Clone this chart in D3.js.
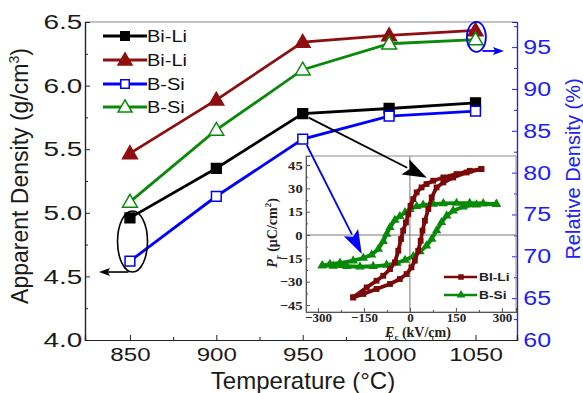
<!DOCTYPE html>
<html><head><meta charset="utf-8">
<script src="https://cdn.jsdelivr.net/npm/d3@7"></script>
<style>
html,body{margin:0;padding:0;background:#fff;}
svg{display:block;}
text{font-family:'Liberation Sans',Arial,sans-serif;}
.serif{font-family:'Liberation Serif','Times New Roman',serif;font-weight:bold;}
</style></head>
<body>
<svg id="chart" width="583" height="393"></svg>
<script>
// ---------------- data ----------------
const temps = [850, 900, 950, 1000, 1050];
const biLiApparent = [4.96, 5.35, 5.78, 5.82, 5.865];
const bSiApparent = [4.62, 5.13, 5.58, 5.76, 5.80];
const biLiRelative = [82.3, 88.7, 95.6, 96.4, 97.0];
const bSiRelative = [76.5, 85.1, 92.3, 95.4, 95.9];

const leftTicks = [4.0, 4.5, 5.0, 5.5, 6.0, 6.5];
const rightTicks = [60, 65, 70, 75, 80, 85, 90, 95];
const xTicks = [850, 900, 950, 1000, 1050];
const insetXTicks = [-300, -150, 0, 150, 300];
const insetYTicks = [-45, -30, -15, 0, 15, 30, 45];

const legendLabels = ["Bi-Li", "Bi-Li", "B-Si", "B-Si"];
const insetLegendLabels = ["BI-Li", "B-Si"];

// inset hysteresis loops [E (kV/cm), P (uC/cm2)]
const biLiUpper = [[233,42.4],[195,41.3],[152,39.2],[109,37],[76,34.9],[54,32.8],[38,30.6],[22,27.4],[11,23.1],[2,18.8],[-5,13.5],[-13,8.1],[-22,2.8],[-29,-2.6],[-38,-10.1],[-49,-17.6],[-65,-21.9],[-87,-26.2],[-109,-29.4],[-141,-33.7],[-185,-40.1]];
const biLiLower = [[-185,-40.1],[-152,-37.9],[-109,-34.7],[-65,-31.5],[-33,-28.3],[-11,-25.1],[5,-20.8],[16,-16.5],[27,-10.1],[35,-3.7],[41,2.8],[49,9.2],[60,16.7],[71,24.2],[87,30.6],[109,33.8],[141,37],[185,40.2],[233,42.4]];
const bSiUpper = [[282,19.9],[239,20.3],[195,20.5],[152,20.5],[109,20.3],[76,19.9],[43,19.3],[22,18.4],[0,16.5],[-16,14.5],[-33,12],[-49,9.6],[-65,4.9],[-76,0.6],[-87,-4.1],[-103,-9],[-125,-12.7],[-152,-14.8],[-185,-16.5],[-228,-18],[-261,-18.7],[-286,-19.7]];
const bSiLower = [[-286,-19.7],[-250,-19.9],[-206,-20.1],[-163,-20.4],[-120,-20.1],[-76,-19.3],[-43,-18],[-16,-16.1],[11,-13.7],[33,-10.7],[54,-6.9],[71,-2.6],[87,2.8],[103,8.1],[120,12.4],[141,15.6],[174,18.2],[217,19.5],[282,19.9]];

// ---------------- colors ----------------
const C_BLACK = "#000000", C_RED = "#8e0f0f", C_BLUE = "#0000ff", C_GREEN = "#0a8a0a";
const C_AXBLUE = "#2020ff", C_IRED = "#7a0a0a", C_IGREEN = "#078a07";

const svg = d3.select("#chart");

// ---------------- scales ----------------
const x = d3.scaleLinear().domain([824, 1074]).range([85, 517]);
const yL = d3.scaleLinear().domain([4.0, 6.5]).range([340, 22]);
const yR = d3.scaleLinear().domain([60, 98]).range([340, 22]);

const xi = d3.scaleLinear().domain([-339, 346]).range([306, 516]);
const yi = d3.scaleLinear().domain([-49.5, 50.8]).range([312, 156]);

function scaleText(sel, sx) {
  sel.attr("transform", `scale(${sx},1)`);
}

// ---------------- main frame ----------------
svg.append("line").attr("x1", 85).attr("x2", 517).attr("y1", 22).attr("y2", 22)
  .attr("stroke", "#888").attr("stroke-width", 1.2);

// left axis
const gL = svg.append("g").attr("transform", "translate(85,0)");
gL.call(d3.axisLeft(yL).tickValues(leftTicks).tickSize(-5).tickPadding(2).tickFormat(d3.format(".1f")));
gL.append("g").call(d3.axisLeft(yL).tickValues([4.25,4.75,5.25,5.75,6.25]).tickSize(-3).tickFormat(""));
gL.selectAll("path.domain").attr("stroke", "#222").attr("stroke-width", 1.2);
gL.selectAll(".tick line").attr("stroke", "#222");
gL.selectAll(".tick text").attr("font-size", 21).attr("fill", "#1a1a1a")
  .attr("font-family", "'Liberation Sans',Arial,sans-serif");
scaleText(gL.selectAll(".tick text"), 1.33);

// right axis
const gR = svg.append("g").attr("transform", "translate(517,0)");
gR.call(d3.axisRight(yR).tickValues(rightTicks).tickSize(-5).tickPadding(5).tickFormat(d3.format("d")));
gR.append("g").call(d3.axisRight(yR).tickValues([62.5,67.5,72.5,77.5,82.5,87.5,92.5,97.5]).tickSize(-3).tickFormat(""));
gR.selectAll("path.domain").attr("stroke", C_AXBLUE).attr("stroke-width", 1.2);
gR.selectAll(".tick line").attr("stroke", C_AXBLUE);
gR.selectAll(".tick text").attr("font-size", 20).attr("fill", C_AXBLUE)
  .attr("font-family", "'Liberation Sans',Arial,sans-serif");
scaleText(gR.selectAll(".tick text"), 1.25);

// bottom axis
const gB = svg.append("g").attr("transform", "translate(0,340)");
gB.call(d3.axisBottom(x).tickValues(xTicks).tickSize(-5).tickPadding(8).tickFormat(d3.format("d")));
gB.append("g").call(d3.axisBottom(x).tickValues([875,925,975,1025]).tickSize(-3).tickFormat(""));
gB.selectAll("path.domain").attr("stroke", "#222").attr("stroke-width", 1.2);
gB.selectAll(".tick line").attr("stroke", "#222");
gB.selectAll(".tick text").attr("font-size", 19).attr("fill", "#1a1a1a")
  .attr("font-family", "'Liberation Sans',Arial,sans-serif");
scaleText(gB.selectAll(".tick text"), 1.27);

// axis titles
const tL = svg.append("text").attr("transform", "translate(28,176) rotate(-90)")
  .attr("text-anchor", "middle").attr("font-size", 23).attr("fill", "#1a1a1a");
tL.append("tspan").text("Apparent Density (g/cm");
tL.append("tspan").attr("font-size", 14).attr("dy", -9).text("3");
tL.append("tspan").attr("dy", 9).text(")");

svg.append("text").attr("x", 303).attr("y", 389).attr("text-anchor", "middle")
  .attr("font-size", 24).attr("fill", "#1a1a1a").text("Temperature (\u00B0C)");

svg.append("text").attr("transform", "translate(580,169) rotate(-90)")
  .attr("text-anchor", "middle").attr("font-size", 20).attr("fill", C_AXBLUE)
  .text("Relative Density (%)");

// ---------------- main series ----------------
const series = [
  { vals: biLiApparent, y: yL, color: C_BLACK, shape: "square", fill: C_BLACK },
  { vals: biLiRelative, y: yR, color: C_RED, shape: "triangle", fill: C_RED },
  { vals: bSiApparent, y: yL, color: C_BLUE, shape: "square", fill: "#fff" },
  { vals: bSiRelative, y: yR, color: C_GREEN, shape: "triangle", fill: "#fff" }
];
const symSquare = d3.symbol().type(d3.symbolSquare);
const symTri = d3.symbol().type(d3.symbolTriangle);

series.forEach(s => {
  const pts = temps.map((t, i) => [x(t), s.y(s.vals[i])]);
  svg.append("path").attr("d", d3.line()(pts)).attr("fill", "none")
    .attr("stroke", s.color).attr("stroke-width", 2.8);
});
series.forEach(s => {
  temps.forEach((t, i) => {
    const sym = s.shape === "square" ? symSquare.size(95)() : symTri.size(95)();
    svg.append("path").attr("d", sym)
      .attr("transform", `translate(${x(t)},${s.y(s.vals[i]) + (s.shape === "triangle" ? 1 : 0)})`)
      .attr("fill", s.fill).attr("stroke", s.color).attr("stroke-width", 1.5);
  });
});

// ---------------- main legend ----------------
const legY = [36, 60, 84, 107];
series.forEach((s, i) => {
  const g = svg.append("g").attr("transform", `translate(0,${legY[i]})`);
  g.append("line").attr("x1", 103).attr("x2", 147).attr("y1", 0).attr("y2", 0)
    .attr("stroke", s.color).attr("stroke-width", 2.8);
  const sym = s.shape === "square" ? symSquare.size(72)() : symTri.size(85)();
  g.append("path").attr("d", sym).attr("transform", `translate(125,${s.shape === "triangle" ? 1 : 0})`)
    .attr("fill", s.fill).attr("stroke", s.color).attr("stroke-width", 1.5);
  g.append("text").attr("transform", "translate(147,6) scale(1.25,1)")
    .attr("font-size", 16).attr("fill", "#111").text(legendLabels[i]);
});

// ---------------- annotations ----------------
function arrow(x1, y1, x2, y2, color, len, wid, lw) {
  const ang = Math.atan2(y2 - y1, x2 - x1);
  const bx = x2 - len * Math.cos(ang), by = y2 - len * Math.sin(ang);
  svg.append("line").attr("x1", x1).attr("y1", y1).attr("x2", bx + 2 * Math.cos(ang)).attr("y2", by + 2 * Math.sin(ang))
    .attr("stroke", color).attr("stroke-width", lw);
  const px = -Math.sin(ang) * wid / 2, py = Math.cos(ang) * wid / 2;
  svg.append("path")
    .attr("d", `M${x2},${y2}L${bx + px},${by + py}L${bx + len * 0.2 * Math.cos(ang)},${by + len * 0.2 * Math.sin(ang)}L${bx - px},${by - py}Z`)
    .attr("fill", color);
}

// black ellipse around 850 apparent density values
const ellCx = x(851.5), ellCy = (yL(biLiApparent[0]) + yL(bSiApparent[0])) / 2 + 2;
svg.append("ellipse").attr("cx", ellCx).attr("cy", ellCy).attr("rx", 15).attr("ry", 30.5)
  .attr("fill", "none").attr("stroke", "#000").attr("stroke-width", 1.6);
arrow(ellCx - 4, ellCy + 30.5, 99, ellCy + 30.5, "#000", 11, 8, 1.6);

// blue ellipse around 1050 relative density values
const bCx = x(1050.5), bCy = (yR(biLiRelative[4]) + yR(bSiRelative[4])) / 2 + 2;
svg.append("ellipse").attr("cx", bCx).attr("cy", bCy).attr("rx", 9.5).attr("ry", 15)
  .attr("fill", "none").attr("stroke", C_BLUE).attr("stroke-width", 1.8);
arrow(bCx + 6, bCy + 14, 504, bCy + 14, C_BLUE, 11, 8, 1.8);

// ---------------- inset ----------------
const gi = svg.append("g");
gi.append("rect").attr("x", 306).attr("y", 156).attr("width", 210).attr("height", 156)
  .attr("fill", "none").attr("stroke", "#8a8a8a").attr("stroke-width", 1);
gi.append("line").attr("x1", xi(0)).attr("x2", xi(0)).attr("y1", 156).attr("y2", 312)
  .attr("stroke", "#777").attr("stroke-width", 1);
gi.append("line").attr("x1", 306).attr("x2", 516).attr("y1", yi(0)).attr("y2", yi(0))
  .attr("stroke", "#777").attr("stroke-width", 1);

const giL = gi.append("g").attr("transform", "translate(306,0)");
giL.call(d3.axisLeft(yi).tickValues(insetYTicks).tickSize(-4).tickPadding(3).tickFormat(d3.format("d")));
giL.append("g").call(d3.axisLeft(yi).tickValues([-37.5,-22.5,-7.5,7.5,22.5,37.5]).tickSize(-2).tickFormat(""));
giL.selectAll("path.domain").attr("stroke", "#555");
giL.selectAll(".tick line").attr("stroke", "#555");
giL.selectAll(".tick text").attr("class", "serif").attr("font-size", 13).attr("fill", "#222");
scaleText(giL.selectAll(".tick text"), 1.12);

const giB = gi.append("g").attr("transform", "translate(0,312)");
giB.call(d3.axisBottom(xi).tickValues(insetXTicks).tickSize(-4).tickPadding(1).tickFormat(d3.format("d")));
giB.append("g").call(d3.axisBottom(xi).tickValues([-225,-75,75,225]).tickSize(-2).tickFormat(""));
giB.selectAll("path.domain").attr("stroke", "#555");
giB.selectAll(".tick line").attr("stroke", "#555");
giB.selectAll(".tick text").attr("class", "serif").attr("font-size", 13).attr("fill", "#222");

// inset titles
const itx = gi.append("text").attr("class", "serif").attr("x", 418).attr("y", 337)
  .attr("text-anchor", "middle").attr("font-size", 14).attr("fill", "#222");
itx.append("tspan").attr("font-style", "italic").text("E");
itx.append("tspan").attr("font-size", 9).attr("dy", 3).text("c");
itx.append("tspan").attr("dy", -3).text(" (kV/cm)");

const ity = gi.append("text").attr("class", "serif").attr("transform", "translate(277,233) rotate(-90)")
  .attr("text-anchor", "middle").attr("font-size", 14).attr("fill", "#222");
ity.append("tspan").attr("font-style", "italic").text("P");
ity.append("tspan").attr("font-size", 9).attr("dy", 4).text("r");
ity.append("tspan").attr("dy", -4).text(" (\u03BCC/cm");
ity.append("tspan").attr("font-size", 9).attr("dy", -6).text("2");
ity.append("tspan").attr("dy", 6).text(")");

const loopLine = d3.line().x(d => xi(d[0])).y(d => yi(d[1]));
const loops = [
  { data: bSiUpper.concat(bSiLower), color: C_IGREEN, shape: "triangle" },
  { data: biLiUpper.concat(biLiLower), color: C_IRED, shape: "square" }
];
loops.forEach(l => {
  gi.append("path").attr("d", loopLine(l.data)).attr("fill", "none")
    .attr("stroke", l.color).attr("stroke-width", 3.8).attr("stroke-linejoin", "round");
  const sym = l.shape === "square" ? d3.symbol().type(d3.symbolSquare).size(34)() : d3.symbol().type(d3.symbolTriangle).size(38)();
  gi.selectAll(null).data(l.data).enter().append("path").attr("d", sym)
    .attr("transform", d => `translate(${xi(d[0])},${yi(d[1])})`).attr("fill", l.color);
});

// inset legend
[[C_IRED, "square"], [C_IGREEN, "triangle"]].forEach((c, i) => {
  const yy = 277 + i * 18;
  gi.append("line").attr("x1", 444).attr("x2", 477).attr("y1", yy).attr("y2", yy)
    .attr("stroke", c[0]).attr("stroke-width", 2.5);
  const sym = c[1] === "square" ? d3.symbol().type(d3.symbolSquare).size(30)() : d3.symbol().type(d3.symbolTriangle).size(34)();
  gi.append("path").attr("d", sym).attr("transform", `translate(461,${yy})`).attr("fill", c[0]);
  gi.append("text").attr("transform", `translate(479,${yy + 4}) scale(1.25,1)`)
    .attr("font-size", 11).attr("font-weight", "bold").attr("fill", "#222").text(insetLegendLabels[i]);
});

// arrows from 950 C samples into inset
arrow(x(950) + 6, yL(biLiApparent[2]) + 4, xi(55), yi(36.8), "#000", 24, 17, 1.8);
arrow(x(950) + 4, yL(bSiApparent[2]) + 6, xi(-157), yi(-12.2), C_BLUE, 24, 16, 1.8);
</script>
</body></html>
